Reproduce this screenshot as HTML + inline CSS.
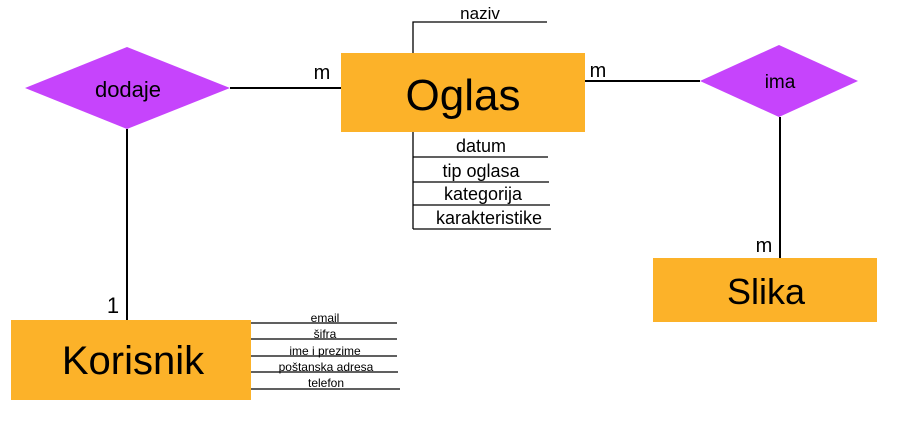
<!DOCTYPE html>
<html><head><meta charset="utf-8"><style>
body{margin:0;background:#fff;}
svg{display:block;font-family:"Liberation Sans",sans-serif;}
</style></head><body>
<svg width="905" height="427" viewBox="0 0 905 427" xmlns="http://www.w3.org/2000/svg">
<g stroke="#000" stroke-width="2" fill="none">
<line x1="230" y1="88" x2="341" y2="88"/>
<line x1="127" y1="129" x2="127" y2="320"/>
<line x1="585" y1="81" x2="700" y2="81"/>
<line x1="780" y1="117" x2="780" y2="258"/>
</g>
<g stroke="#000" stroke-width="1.3" fill="none">
<polyline points="413,53 413,22 547,22"/>
<line x1="413" y1="132" x2="413" y2="229"/>
<line x1="413" y1="157" x2="548" y2="157"/>
<line x1="413" y1="182" x2="549" y2="182"/>
<line x1="413" y1="205" x2="550" y2="205"/>
<line x1="413" y1="229" x2="551" y2="229"/>
<line x1="251" y1="323" x2="397" y2="323"/>
<line x1="251" y1="339" x2="397" y2="339"/>
<line x1="251" y1="356" x2="397" y2="356"/>
<line x1="251" y1="372" x2="398" y2="372"/>
<line x1="251" y1="389" x2="400" y2="389"/>
</g>
<polygon points="25,88 127,47 230,88 127,129" fill="#C644FC"/>
<polygon points="700,81 779,45 858,81 779,117" fill="#C644FC"/>
<rect x="341" y="53" width="244" height="79" fill="#FCB229"/>
<rect x="11" y="320" width="240" height="80" fill="#FCB229"/>
<rect x="653" y="258" width="224" height="64" fill="#FCB229"/>
<g fill="#000" text-anchor="middle">
<text x="463" y="110" font-size="44">Oglas</text>
<text x="133" y="374" font-size="40">Korisnik</text>
<text x="766" y="304" font-size="36">Slika</text>
<text x="128" y="97" font-size="22">dodaje</text>
<text x="780" y="88" font-size="19">ima</text>
<text x="480" y="19" font-size="17">naziv</text>
<text x="481" y="152" font-size="18">datum</text>
<text x="481" y="177" font-size="18">tip oglasa</text>
<text x="483" y="200" font-size="18">kategorija</text>
<text x="489" y="224" font-size="18">karakteristike</text>
<text x="325" y="322" font-size="12">email</text>
<text x="325" y="338" font-size="12">šifra</text>
<text x="325" y="355" font-size="12">ime i prezime</text>
<text x="326" y="371" font-size="12">poštanska adresa</text>
<text x="326" y="387" font-size="12">telefon</text>
<text x="322" y="79" font-size="20">m</text>
<text x="598" y="77" font-size="20">m</text>
<text x="764" y="252" font-size="20">m</text>
<text x="113" y="313" font-size="22">1</text>
</g>
</svg>
</body></html>
